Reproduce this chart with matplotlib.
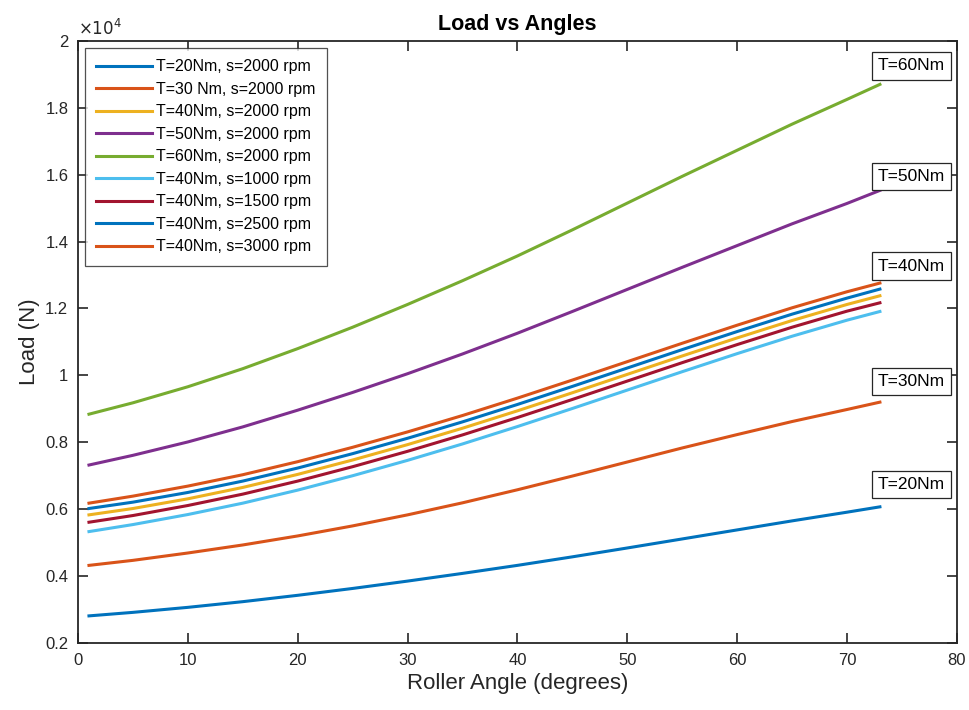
import matplotlib
matplotlib.use("Agg")
import matplotlib.pyplot as plt
from matplotlib.ticker import FuncFormatter

plt.rcParams['font.family'] = ['Liberation Sans', 'DejaVu Sans']

# roller angle (degrees)
angle = [1, 5, 10, 15, 20, 25, 30, 35, 40, 45, 50, 55, 60, 65, 70, 73]

# load (N) for each torque / speed case
load_t20_s2000 = [2810, 2915, 3065, 3235, 3425, 3630, 3850, 4080, 4320, 4575, 4840, 5110, 5380, 5650, 5910, 6070]
load_t30_s2000 = [4320, 4470, 4690, 4930, 5200, 5500, 5830, 6190, 6580, 6990, 7410, 7830, 8230, 8620, 8980, 9200]
load_t40_s2000 = [5830, 6020, 6310, 6650, 7040, 7470, 7930, 8420, 8940, 9480, 10030, 10580, 11120, 11640, 12120, 12380]
load_t50_s2000 = [7320, 7610, 8010, 8460, 8960, 9490, 10050, 10640, 11260, 11910, 12570, 13230, 13880, 14530, 15140, 15530]
load_t60_s2000 = [8840, 9180, 9660, 10200, 10800, 11440, 12120, 12830, 13570, 14350, 15150, 15950, 16730, 17510, 18250, 18700]
load_t40_s1000 = [5330, 5540, 5840, 6180, 6570, 7000, 7460, 7950, 8470, 9010, 9560, 10110, 10650, 11170, 11650, 11910]
load_t40_s1500 = [5610, 5810, 6110, 6450, 6840, 7270, 7730, 8220, 8740, 9280, 9830, 10380, 10920, 11440, 11920, 12170]
load_t40_s2500 = [6020, 6210, 6500, 6840, 7230, 7660, 8120, 8610, 9130, 9670, 10220, 10770, 11310, 11830, 12310, 12580]
load_t40_s3000 = [6180, 6390, 6690, 7030, 7420, 7850, 8310, 8800, 9320, 9860, 10410, 10960, 11500, 12020, 12500, 12760]

series = [
    (load_t20_s2000, 'T=20Nm, s=2000 rpm', '#0072BD'),
    (load_t30_s2000, 'T=30 Nm, s=2000 rpm', '#D95319'),
    (load_t40_s2000, 'T=40Nm, s=2000 rpm', '#EDB120'),
    (load_t50_s2000, 'T=50Nm, s=2000 rpm', '#7E2F8E'),
    (load_t60_s2000, 'T=60Nm, s=2000 rpm', '#77AC30'),
    (load_t40_s1000, 'T=40Nm, s=1000 rpm', '#4DBEEE'),
    (load_t40_s1500, 'T=40Nm, s=1500 rpm', '#A2142F'),
    (load_t40_s2500, 'T=40Nm, s=2500 rpm', '#0072BD'),
    (load_t40_s3000, 'T=40Nm, s=3000 rpm', '#D95319'),
]

# torque labels next to the line ends
label_text = ['T=60Nm', 'T=50Nm', 'T=40Nm', 'T=30Nm', 'T=20Nm']
label_y = [19250, 15940, 13270, 9810, 6750]

fig = plt.figure(figsize=(9.7, 7.1), dpi=100)
ax = fig.add_axes([0.0804, 0.0944, 0.906, 0.848])

for vals, name, col in series:
    ax.plot(angle, vals, color=col, lw=2.2, label=name)

for txt, yy in zip(label_text, label_y):
    ax.text(72.8, yy, txt, fontsize=12.5, va='center', ha='left', color='black',
            bbox=dict(boxstyle='square,pad=0.35', fc='white', ec='#262626', lw=0.9))

ax.set_xlim(0, 80)
ax.set_ylim(2000, 20000)
ax.set_xticks(range(0, 81, 10))
ax.set_yticks(range(2000, 20001, 2000))
ax.yaxis.set_major_formatter(FuncFormatter(lambda v, p: '%g' % (v / 1e4)))
ax.tick_params(direction='in', length=7, width=1.2, top=True, right=True,
               labelsize=12, colors='#262626', pad=7)
for sp in ax.spines.values():
    sp.set_linewidth(1.3)
    sp.set_color('#262626')

ax.text(0.0, 1.004, r'$\times10^{4}$', transform=ax.transAxes, fontsize=12,
        color='#262626', ha='left', va='bottom')

ax.set_title('Load vs Angles', fontsize=15.5, fontweight='bold', pad=8)
ax.set_xlabel('Roller Angle (degrees)', fontsize=16, color='#262626', labelpad=4)
ax.set_ylabel('Load (N)', fontsize=16, color='#262626')

leg = ax.legend(loc='upper left', fontsize=11.5, frameon=True, fancybox=False,
                edgecolor='#262626', handlelength=3.5, handletextpad=0.25,
                borderaxespad=0.45, labelspacing=0.47, borderpad=0.7)
leg.get_frame().set_linewidth(0.9)

fig.savefig('out.png', dpi=100)
